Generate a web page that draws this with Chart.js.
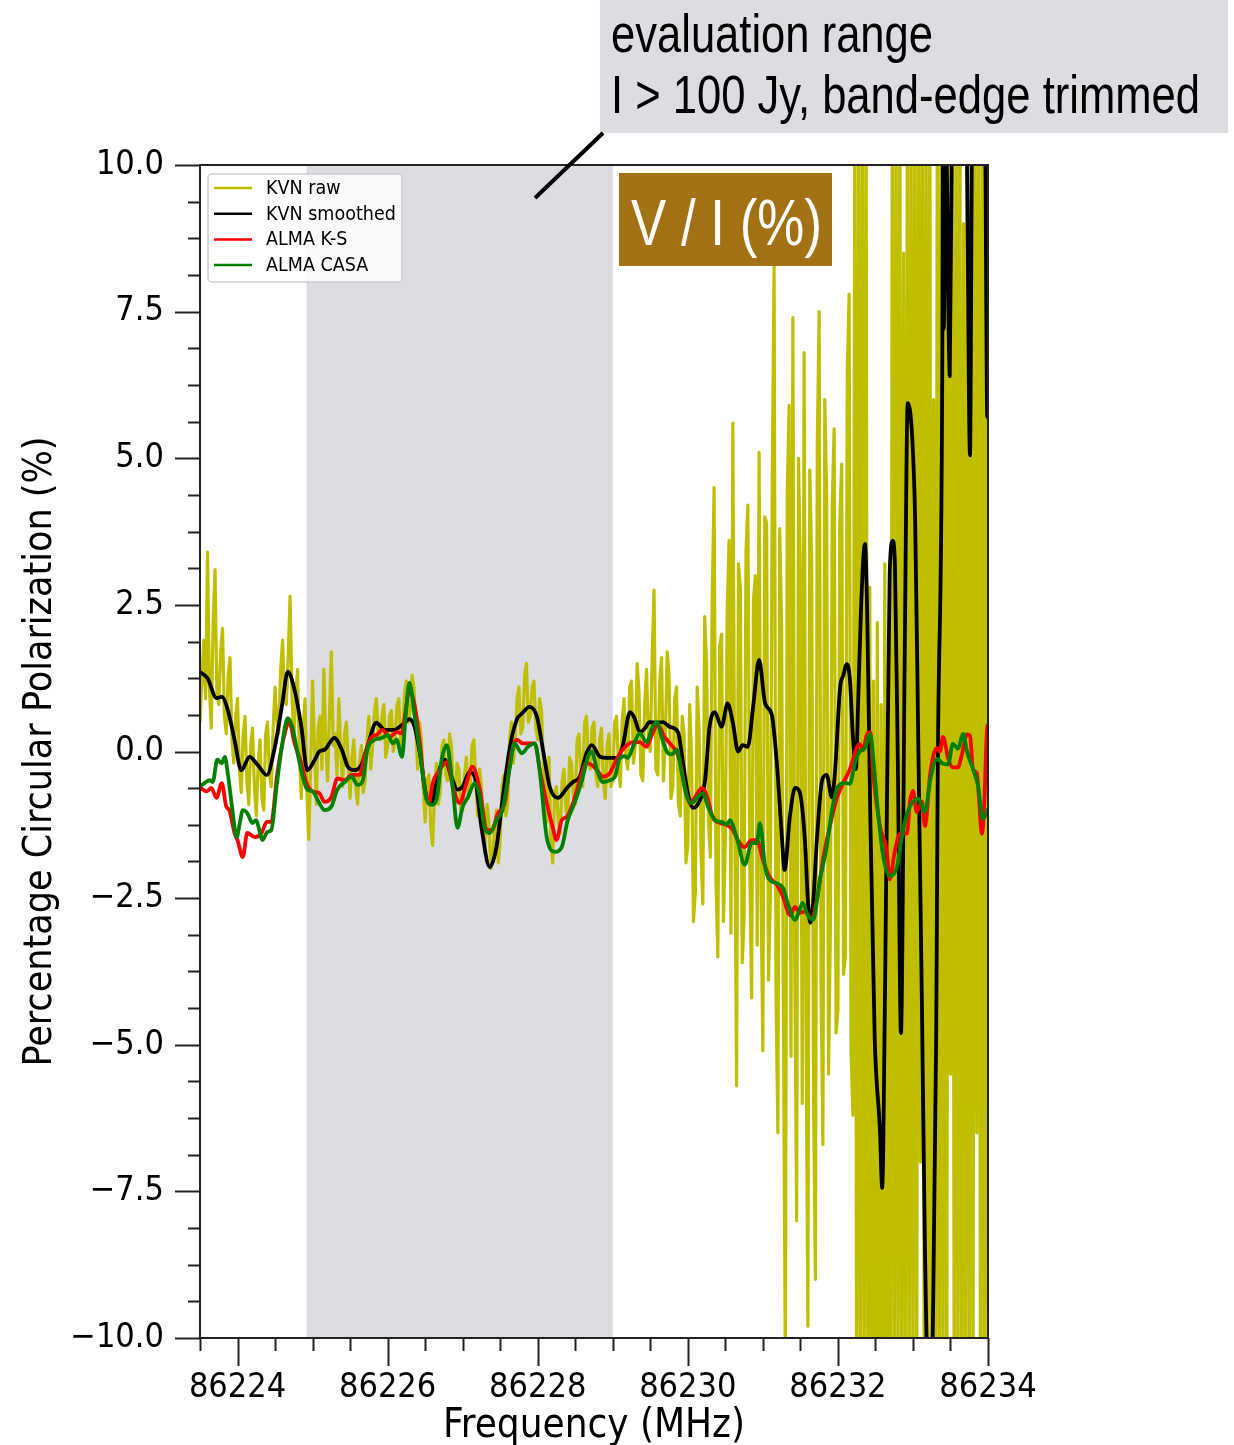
<!DOCTYPE html>
<html>
<head>
<meta charset="utf-8">
<title>V / I spectrum</title>
<script src="https://cdn.jsdelivr.net/npm/chart.js@4.4.1/dist/chart.umd.min.js"></script>
<style>
  html, body { margin: 0; padding: 0; background: #fff; }
  #wrap { width: 1234px; height: 1445px; }
</style>
</head>
<body>
<div id="wrap"><canvas id="vChart" width="1234" height="1445"></canvas></div>
<script>
// axis limits and ticks (MHz, %)
const xMin = 86223.5, xMax = 86234;
const xTicks = [86224, 86226, 86228, 86230, 86232, 86234];
const yTicks = [-10, -7.5, -5, -2.5, 0, 2.5, 5, 7.5, 10];
const evalRange = [86224.92, 86229.0];

// KVN raw channels: regular grid starting at rawStart
const rawStart = 86223.5, rawStep = 0.025;
const kvnRaw = [
  // 86223.5 - 86224.95
  0.5, 1.2, 1.9, 0.9, 3.4, 1.1, 0.4, 2.2, 3.1, 1.0,
  0.8, 1.7, 2.1, 0.6, 0.3, 1.3, 1.6, 0.2, -0.2, 0.6,
  0.9, -0.3, -0.7, 0.3, 0.6, -0.5, -0.9, 0.1, 0.4, -0.6,
  -1.1, -0.2, 0.2, -0.8, -1.0, 0.3, 0.5, -0.4, -0.6, 0.4,
  1.1, 0.5, 0.3, 1.4, 1.9, 0.9, 0.8, 1.6, 2.65, 1.0,
  0.2, 0.9, 1.4, -0.1, -0.8, 0.4, 0.9, -0.7,
  // evaluation range
  -1.5, -0.2, 1.2, 0.1, -0.9, 0.4, 0.6, -0.3, 1.4, 0.2,
  -0.5, 0.6, 1.7, 0.1, 0.3, -0.4, 0.9, 0.0, -0.6, 0.3,
  0.5, -0.2, -0.8, -0.1, 0.2, -0.6, -0.9, -0.2, 0.1, -0.7,
  -0.5, 0.2, 0.6, -0.3, 0.1, 0.7, 0.9, 0.3, 0.2, 0.6,
  0.8, -0.1, 0.1, 0.6, 0.7, 0.0, 0.2, 0.8, 0.9, 0.1,
  0.3, 1.0, 1.2, 0.5, 0.7, 1.3, 1.1, 0.4, -0.3, 0.5,
  0.2, -0.6, -1.2, -0.5, -0.4, -1.3, -1.6, -0.7, -0.2, -0.9,
  -0.7, 0.1, 0.2, -0.4, -0.5, 0.3, 0.1, -0.6, -0.9, -0.2,
  -0.3, -1.0, -1.0, -0.4, -0.1, -0.8, -0.6, 0.1, 0.2, -0.5,
  -1.1, -0.3, -0.6, -1.3, -1.6, -0.9, -1.2, -2.0, -1.8, -1.3,
  -1.0, -1.9, -1.5, -0.6, -0.4, -1.1, -0.9, 0.2, 0.5, -0.2,
  0.2, 0.9, 1.1, 0.3, 0.4, 1.3, 1.5, 0.5, 0.6, 1.1,
  1.2, 0.4, 0.2, 0.9, 0.7, -0.2, -0.7, -1.2, -0.1, -1.5,
  -1.9, -0.7, -0.6, -1.2, -1.4, -0.5, -0.3, -1.0, -1.1, -0.1,
  -0.2, -0.8, -0.9, 0.2, 0.3, -0.4, -0.6, 0.5, 0.6, -0.1,
  -0.3, 0.4, 0.5, -0.4, -0.6, 0.2, 0.4, -0.5, -0.8, 0.1,
  0.3, -0.6, -0.5, 0.5,
  // 86229.0 - 86230.15
  0.6, -0.2, -0.6, 0.5, 0.9, -0.1, -0.3, 1.1, 1.2, -0.2,
  0.1, 1.5, 1.0, -0.4, -0.5, 0.8, 1.4, 0.2, 0.0, 1.6,
  2.75, -0.3, -0.4, 1.2, 1.6, -0.5, 0.2, 1.7, 1.3, -0.8,
  -0.6, 0.9, 1.1, -0.9, -1.1, 0.6, 0.3, -1.9, -1.6, 0.8,
  -0.1, -2.9, -2.4, 1.1, 0.4, -1.7,
  // 86230.2 - 86232.2
  -2.6, 2.3, 1.5, -1.2, -1.8, 2.6, 4.5, -2.2, -3.5, 1.8,
  2.0, -2.9, -1.5, 2.4, 3.6, -3.1, 5.6, -1.0, -5.7, 3.2,
  2.8, -3.6, -2.8, 3.4, 4.2, -1.9, -4.2, 2.6, 3.0, -3.3,
  5.1, -2.4, -5.1, 4.0, 3.9, -3.9, -2.5, 4.6, 8.3, -4.1,
  -6.5, 3.8, 2.1, -4.8, -10.5, 4.4, 5.9, -5.2, 7.4, -3.6,
  -8.0, 5.0, 3.0, -6.0, 6.8, -4.5, -9.8, 4.8, 3.3, -5.8,
  -9.0, 5.2, 7.5, -4.0, -6.7, 6.0, 4.4, -5.5, -3.0, 4.2,
  5.5, -4.8, -4.4, 3.9, 4.9, -3.8, -3.5, 6.5, 7.8, -5.1,
  -6.2, 11,
  // 86232.25 - 86234.0, saturated band edge
  -12, 12, -12, 12, -12, 12, -12, 2.8, -12, 1.2,
  -12, 2.2, -12, 0.8, -12, 3.2, -12, 1.9, -12, 12,
  -12, 12, -12, 12, -12, 8.5, -12, 12, -12, 12,
  -12, 12, -12, 12, -7.0, 12, -12, 12, -12, 12,
  -12, 6.0, -12, 12, -12, 12, -12, 12, -12, 12,
  -5.5, 12, -12, 12, -12, 12, -12, 9.0, -12, 12,
  -12, 12, -12, 12, -6.5, 12, -12, 12, -12, 12,
  -12
];

// smoothed and ALMA curves: offsets in MHz above fBase
const fBase = 86224;
const smoothDf = [
  -0.51, -0.40, -0.28, -0.21, -0.13, -0.04, 0.05, 0.16, 0.27, 0.39,
  0.49, 0.59, 0.67, 0.76, 0.85, 0.93, 1.03, 1.09, 1.16, 1.29,
  1.39, 1.47, 1.56, 1.65, 1.73, 1.85, 1.96, 2.09, 2.19, 2.29,
  2.36, 2.43, 2.52, 2.59, 2.65, 2.76, 2.85, 2.93, 3.00, 3.09,
  3.16, 3.25, 3.36, 3.45, 3.53, 3.63, 3.72, 3.80, 3.89, 3.99,
  4.07, 4.16, 4.27, 4.39, 4.47, 4.56, 4.65, 4.72, 4.83, 4.92,
  5.05, 5.13, 5.23, 5.29, 5.36, 5.43, 5.49, 5.59, 5.67, 5.76,
  5.87, 5.93, 6.00, 6.07, 6.16, 6.23, 6.29, 6.36, 6.45, 6.53,
  6.60, 6.67, 6.73, 6.80, 6.87, 6.95, 7.03, 7.12, 7.19, 7.25,
  7.29, 7.36, 7.43, 7.49, 7.56, 7.60, 7.63, 7.67, 7.72, 7.79,
  7.85, 7.92, 7.96, 8.03, 8.07, 8.12, 8.16, 8.20, 8.24, 8.27,
  8.31, 8.36, 8.39, 8.43, 8.49, 8.56, 8.59, 8.63, 8.69,
  8.73, 8.76, 8.80, 8.84, 8.89, 8.93, 8.99, 9.03,
  9.07, 9.12, 9.16, 9.20, 9.25, 9.27, 9.31, 9.33, 9.39, 9.40,
  9.41, 9.44, 9.49, 9.52, 9.71, 9.76, 9.79, 9.96, 9.99, 10.00
];
const kvnSmooth = [
  1.36, 1.25, 0.91, 0.93, 0.71, 0.20, -0.32, -0.09, -0.23, -0.40,
  0.03, 0.76, 1.36, 1.05, 0.42, -0.32, -0.14, 0.00, 0.03, 0.23,
  0.03, -0.26, -0.32, -0.23, 0.08, 0.49, 0.37, 0.37, 0.45, 0.55,
  0.42, -0.03, -0.78, -0.88, -0.49, -0.14, -0.43, -0.65, -0.60, -0.35,
  -0.43, -1.29, -1.97, -1.63, -0.83, 0.08, 0.54, 0.66, 0.76, 0.59,
  0.03, -0.60, -0.79, -0.62, -0.52, -0.43, -0.03, 0.11, -0.09, -0.11,
  -0.11, 0.08, 0.67, 0.57, 0.33, 0.40, 0.50, 0.49, 0.50, 0.42,
  0.33, -0.14, -0.71, -0.96, -0.83, -0.49, 0.42, 0.67, 0.42, 0.82,
  0.49, 0.00, 0.11, 0.08, 0.76, 1.56, 0.82, 0.62, -0.26, -1.39,
  -2.02, -1.11, -0.62, -0.69, -1.51, -2.53, -2.92, -2.58, -1.51, -0.49,
  -0.40, -0.78, -0.37, 1.10, 1.29, 1.49, 1.22, 0.25, -0.30, 0.86,
  2.50, 3.54, 2.38, -0.98, -4.87, -6.45, -7.44, -3.84, 3.04,
  3.59, 3.17, -0.37, -4.80, 1.60, 5.94, 5.36, 3.90,
  0.25, -4.36, -8.50, -10.6, -10.6, -9.35, -4.80, -0.40, 6.34, 10.5,
  7.2, 10.5, 6.4, 10.5, 10.6, 5.05, 10.5, 10.5, 5.7, 6.0
];

const ksDf = [
  -0.51, -0.41, -0.35, -0.28, -0.21, -0.15, -0.11, -0.04, 0.00, 0.07,
  0.13, 0.23, 0.32, 0.39, 0.45, 0.53, 0.63, 0.69, 0.76, 0.85,
  0.92, 1.00, 1.09, 1.16, 1.25, 1.33, 1.43, 1.52, 1.63, 1.69,
  1.79, 1.85, 1.93, 2.03, 2.12, 2.19, 2.23, 2.29, 2.36, 2.43,
  2.49, 2.55, 2.60, 2.69, 2.79, 2.87, 2.96, 3.05, 3.13, 3.23,
  3.32, 3.39, 3.47, 3.56, 3.65, 3.72, 3.80, 3.89, 3.96, 4.03,
  4.12, 4.20, 4.25, 4.32, 4.39, 4.47, 4.56, 4.65, 4.72, 4.79,
  4.87, 4.96, 5.05, 5.13, 5.27, 5.36, 5.45, 5.52, 5.60, 5.69,
  5.76, 5.83, 5.89, 5.96, 6.03, 6.09, 6.19, 6.25, 6.33, 6.43,
  6.52, 6.60, 6.69, 6.76, 6.85, 6.92, 7.00, 7.09, 7.19, 7.27,
  7.36, 7.43, 7.49, 7.56, 7.65, 7.72, 7.80, 7.89, 7.99, 8.07,
  8.16, 8.25, 8.29, 8.33, 8.39, 8.43, 8.47, 8.56, 8.65, 8.69,
  8.76, 8.83, 8.92, 8.96, 9.00, 9.05, 9.12, 9.16, 9.23, 9.32,
  9.36, 9.40, 9.47, 9.53, 9.60, 9.65, 9.72, 9.76, 9.80, 9.85,
  9.92, 9.95, 9.99, 10.00
];
const almaKS = [
  -0.60, -0.68, -0.62, -0.79, -0.54, -0.94, -1.00, -1.39, -1.51, -1.80,
  -1.39, -1.46, -1.39, -1.20, -1.20, -0.37, 0.31, 0.50, 0.14, -0.20,
  -0.54, -0.68, -0.71, -0.86, -0.78, -0.46, -0.49, -0.40, -0.40, -0.09,
  0.25, 0.28, 0.37, 0.25, 0.33, 0.31, 0.60, 1.05, 0.79, 0.14,
  -0.60, -0.88, -0.54, -0.32, -0.18, -0.60, -0.88, -0.54, -0.26, -0.65,
  -1.34, -1.34, -1.05, -0.88, -0.03, 0.20, 0.14, 0.14, 0.14, -0.32,
  -0.88, -1.29, -1.51, -1.17, -1.11, -0.88, -0.49, -0.20, -0.23, -0.32,
  -0.43, -0.37, -0.14, 0.03, 0.16, 0.16, 0.08, 0.28, 0.45, 0.25,
  0.14, 0.03, -0.14, -0.60, -0.88, -0.79, -0.62, -0.74, -1.11, -1.22,
  -1.25, -1.34, -1.56, -1.63, -1.51, -1.51, -1.85, -2.14, -2.28, -2.48,
  -2.79, -2.65, -2.75, -2.73, -2.84, -2.53, -1.85, -1.29, -0.78, -0.54,
  -0.30, 0.06, 0.13, 0.02, 0.30, 0.33, -0.37, -1.27, -1.69, -2.18,
  -1.69, -1.40, -1.40, -0.85, -0.67, -1.03, -0.85, -1.27, -0.37, 0.06,
  0.00, 0.25, -0.12, -0.27, -0.27, -0.06, 0.29, 0.27, -0.30, -0.37,
  -1.40, -0.90, 0.43, 0.45
];

const casaDf = [
  -0.51, -0.44, -0.37, -0.33, -0.27, -0.21, -0.17, -0.13, -0.08, -0.01,
  0.03, 0.07, 0.13, 0.20, 0.25, 0.29, 0.33, 0.40, 0.45, 0.52,
  0.59, 0.67, 0.73, 0.80, 0.87, 0.93, 1.00, 1.09, 1.16, 1.25,
  1.33, 1.43, 1.52, 1.60, 1.67, 1.73, 1.83, 1.92, 2.00, 2.07,
  2.12, 2.19, 2.25, 2.29, 2.36, 2.43, 2.52, 2.59, 2.65, 2.72,
  2.79, 2.87, 2.93, 3.00, 3.07, 3.16, 3.23, 3.29, 3.36, 3.45,
  3.53, 3.63, 3.69, 3.79, 3.87, 3.96, 4.03, 4.12, 4.23, 4.32,
  4.40, 4.49, 4.59, 4.67, 4.72, 4.79, 4.87, 4.96, 5.03, 5.09,
  5.16, 5.20, 5.27, 5.36, 5.45, 5.53, 5.59, 5.65, 5.72, 5.79,
  5.85, 5.92, 5.99, 6.05, 6.13, 6.20, 6.27, 6.36, 6.45, 6.52,
  6.56, 6.65, 6.76, 6.85, 6.92, 6.96, 7.03, 7.09, 7.19, 7.27,
  7.33, 7.43, 7.49, 7.53, 7.60, 7.67, 7.76, 7.85, 7.93, 8.00,
  8.09, 8.16, 8.23, 8.29, 8.36, 8.43, 8.47, 8.53, 8.60, 8.69,
  8.79, 8.85, 8.93, 9.07, 9.16, 9.23, 9.32, 9.39, 9.47, 9.53,
  9.60, 9.67, 9.72, 9.80, 9.87, 9.93, 10.00
];
const almaCASA = [
  -0.60, -0.54, -0.49, -0.52, -0.14, -0.20, -0.09, -0.37, -0.88, -1.46,
  -1.22, -1.00, -1.05, -1.22, -1.17, -1.34, -1.51, -1.37, -1.34, -0.60,
  0.08, 0.57, 0.42, -0.03, -0.43, -0.65, -0.68, -0.88, -1.00, -0.94,
  -0.65, -0.52, -0.43, -0.57, -0.49, 0.03, 0.20, 0.23, 0.28, 0.14,
  0.20, -0.09, 0.76, 1.17, 0.62, 0.00, -0.83, -0.91, -0.83, -0.14,
  0.11, -0.65, -1.30, -0.94, -0.78, -0.54, -0.78, -1.29, -1.39, -1.17,
  -1.00, -0.26, 0.14, -0.03, 0.08, 0.14, -0.37, -1.46, -1.71, -1.63,
  -1.17, -0.88, -0.49, -0.09, 0.00, -0.32, -0.52, -0.49, -0.43, -0.12,
  -0.08, -0.11, 0.08, 0.31, 0.16, 0.42, 0.50, 0.25, 0.00, -0.05,
  0.03, -0.37, -0.78, -0.88, -0.78, -0.71, -0.94, -1.17, -1.20, -1.25,
  -1.17, -1.46, -1.93, -1.56, -1.56, -1.22, -1.97, -2.19, -2.25, -2.33,
  -2.58, -2.87, -2.70, -2.58, -2.79, -2.87, -2.19, -1.63, -0.94, -0.60,
  -0.54, -0.55, -0.18, 0.00, 0.06, 0.30, -0.10, -0.98, -1.76, -2.12,
  -1.95, -1.46, -1.03, -0.80, -1.03, -0.49, -0.12, -0.20, -0.22, 0.13,
  0.05, 0.30, 0.00, -0.30, -0.60, -1.15, -0.98
];

const condensed = "'DejaVu Sans Condensed', 'DejaVu Sans', sans-serif";
const narrow = "'Liberation Sans Narrow', 'Liberation Sans', sans-serif";
Chart.defaults.font.family = condensed;
Chart.defaults.color = '#000';

const rawPoints = kvnRaw.map((v, i) => ({ x: rawStart + i * rawStep, y: v }));
const toPoints = (df, vals) => df.map((d, i) => ({ x: fBase + d, y: vals[i] }));

// squeeze a string into a fixed width
function fitText(ctx, text, x, y, width) {
  const w = ctx.measureText(text).width;
  ctx.save();
  ctx.translate(x, y);
  ctx.scale(width / w, 1);
  ctx.fillText(text, 0, 0);
  ctx.restore();
}

const decorations = {
  id: 'decorations',
  beforeDatasetsDraw(chart) {
    const { ctx, chartArea: a, scales: { x } } = chart;
    const x0 = x.getPixelForValue(evalRange[0]);
    const x1 = x.getPixelForValue(evalRange[1]);
    ctx.save();
    ctx.fillStyle = '#dcdde0';
    ctx.fillRect(x0, a.top, x1 - x0, a.bottom - a.top);
    ctx.restore();
  },
  afterDraw(chart) {
    const { ctx, chartArea: a, scales: { x, y } } = chart;
    ctx.save();

    // frame
    ctx.strokeStyle = '#222';
    ctx.lineWidth = 2;
    ctx.strokeRect(a.left, a.top, a.right - a.left, a.bottom - a.top);

    // major and minor ticks, pointing outward
    ctx.beginPath();
    for (let f = xMin; f <= xMax + 1e-6; f += 0.5) {
      const px = Math.round(x.getPixelForValue(f)) + 0.5;
      const len = xTicks.includes(Math.round(f * 10) / 10) ? 28 : 13;
      ctx.moveTo(px, a.bottom);
      ctx.lineTo(px, a.bottom + len);
    }
    for (let k = 0; k <= 32; k++) {
      const v = -10 + k * 0.625;
      const py = Math.round(y.getPixelForValue(v)) + 0.5;
      const len = k % 4 === 0 ? 25 : 12;
      ctx.moveTo(a.left, py);
      ctx.lineTo(a.left - len, py);
    }
    ctx.stroke();

    // legend
    const bx = a.left + 8, by = a.top + 9, bw = 194, bh = 108;
    ctx.fillStyle = 'rgba(255,255,255,0.85)';
    ctx.strokeStyle = '#cccccc';
    ctx.lineWidth = 1.5;
    ctx.beginPath();
    ctx.roundRect(bx, by, bw, bh, 4);
    ctx.fill();
    ctx.stroke();
    ctx.font = '19.5px ' + condensed;
    ctx.textBaseline = 'middle';
    chart.data.datasets.forEach((ds, i) => {
      const ry = by + 14 + i * 25.7;
      ctx.strokeStyle = ds.borderColor;
      ctx.lineWidth = 2.5;
      ctx.beginPath();
      ctx.moveTo(bx + 6, ry);
      ctx.lineTo(bx + 44, ry);
      ctx.stroke();
      ctx.fillStyle = '#000';
      ctx.fillText(ds.label, bx + 58, ry + 1);
    });

    // evaluation range note with leader line
    ctx.fillStyle = '#dcdde0';
    ctx.fillRect(600, 0, 628, 133);
    ctx.strokeStyle = '#000';
    ctx.lineWidth = 4;
    ctx.beginPath();
    ctx.moveTo(535, 198);
    ctx.lineTo(603, 133);
    ctx.stroke();
    ctx.fillStyle = '#000';
    ctx.textBaseline = 'alphabetic';
    ctx.font = '53px ' + narrow;
    fitText(ctx, 'evaluation range', 611, 52, 322);
    fitText(ctx, 'I > 100 Jy, band-edge trimmed', 611, 113, 589);

    // quantity badge
    ctx.fillStyle = '#a17114';
    ctx.fillRect(619, 173, 213, 93);
    ctx.fillStyle = '#fff';
    ctx.font = '65px ' + narrow;
    fitText(ctx, 'V / I (%)', 631, 245, 191);

    ctx.restore();
  }
};

new Chart(document.getElementById('vChart'), {
  type: 'line',
  data: {
    datasets: [
      { label: 'KVN raw', data: rawPoints, borderColor: '#bfbf00', borderWidth: 3.2, order: 4 },
      { label: 'KVN smoothed', data: toPoints(smoothDf, kvnSmooth), borderColor: '#000000', borderWidth: 3.8,
        cubicInterpolationMode: 'monotone', order: 3 },
      { label: 'ALMA K-S', data: toPoints(ksDf, almaKS), borderColor: '#ff0000', borderWidth: 3.8,
        cubicInterpolationMode: 'monotone', order: 2 },
      { label: 'ALMA CASA', data: toPoints(casaDf, almaCASA), borderColor: '#008000', borderWidth: 3.8,
        cubicInterpolationMode: 'monotone', order: 1 }
    ]
  },
  options: {
    responsive: false,
    animation: false,
    events: [],
    datasets: { line: { clip: 0, pointRadius: 0, tension: 0, fill: false, borderJoinStyle: 'round' } },
    layout: { padding: { top: 165, right: 246, left: 0, bottom: 0 } },
    plugins: { legend: { display: false }, tooltip: { enabled: false } },
    scales: {
      x: {
        type: 'linear',
        min: xMin,
        max: xMax,
        afterBuildTicks: s => { s.ticks = xTicks.map(v => ({ value: v })); },
        afterFit: s => { s.height = 107; },
        grid: { display: false, drawTicks: false },
        border: { display: false },
        ticks: { padding: 30, maxRotation: 0, autoSkip: false, font: { size: 34 },
          callback: v => v.toFixed(0) },
        title: { display: true, text: 'Frequency (MHz)', font: { size: 40, lineHeight: 0.9 }, padding: { top: 0, bottom: 0 } }
      },
      y: {
        min: -10,
        max: 10,
        afterBuildTicks: s => { s.ticks = yTicks.map(v => ({ value: v })); },
        afterFit: s => { s.width = 200; },
        grid: { display: false, drawTicks: false },
        border: { display: false },
        ticks: { padding: 36, font: { size: 34 },
          callback: v => (v < 0 ? '\u2212' : '') + Math.abs(v).toFixed(1) },
        title: { display: true, text: 'Percentage Circular Polarization (%)', font: { size: 39, lineHeight: 1.0 }, padding: { top: 21, bottom: 0 } }
      }
    }
  },
  plugins: [decorations]
});
</script>
</body>
</html>
